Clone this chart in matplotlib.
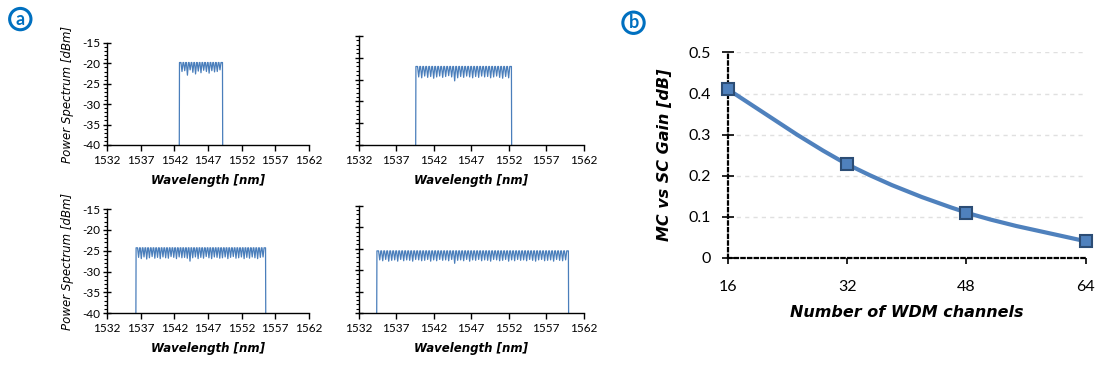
import numpy as np
import matplotlib.pyplot as plt
from matplotlib.path import Path
from matplotlib.patches import PathPatch

# ---- panel (a): WDM spectra, one list of inter-channel dips per case ----
bandStart = [1542.75, 1539.6, 1536.3, 1534.4]
bandEnd = [1549.2, 1552.4, 1555.6, 1560.0]
peakLevel = [-19.8, -22.0, -24.3, -25.5]
dips16 = [-22.0, -21.8, -22.9, -21.6, -22.2, -22.6, -21.9, -22.3, -21.7, -22.0,
          -22.4, -21.8, -22.1, -22.0, -21.6]
dips32 = [-24.4, -24.6, -24.2, -24.5, -24.3, -24.7, -24.4, -24.2, -24.5, -24.3,
          -24.1, -24.4, -25.3, -24.6, -24.3, -24.5, -24.2, -24.4, -24.6, -24.3,
          -24.5, -24.2, -24.4, -24.3, -24.6, -24.4, -24.2, -24.5, -24.7, -24.3,
          -24.6]
dips48 = [-26.6, -26.9, -26.5, -27.0, -26.7, -26.4, -26.8, -26.6, -26.9, -26.5,
          -26.7, -26.8, -26.4, -26.6, -26.9, -26.5, -26.7, -26.6, -26.8, -27.5,
          -26.7, -26.5, -26.9, -26.6, -26.8, -26.4, -26.7, -26.9, -26.5, -26.6,
          -26.8, -26.7, -26.5, -26.9, -26.6, -26.4, -26.8, -26.7, -26.5, -26.9,
          -26.6, -26.8, -26.5, -26.7, -26.9, -26.6, -26.5]
dips64 = [-27.6, -27.8, -27.5, -27.9, -27.7, -27.6, -27.9, -27.5, -27.8, -27.6,
          -27.7, -27.9, -27.5, -27.6, -27.8, -27.7, -27.5, -27.9, -27.6, -27.8,
          -27.5, -27.7, -27.6, -27.8, -27.5, -28.4, -27.7, -27.6, -27.8, -27.5,
          -27.9, -27.6, -27.7, -27.5, -27.8, -27.6, -27.7, -27.9, -27.5, -27.6,
          -27.8, -27.7, -27.5, -27.9, -27.6, -27.8, -27.5, -27.7, -27.6, -27.8,
          -27.5, -27.7, -27.9, -27.6, -27.5, -27.8, -27.7, -27.6, -27.9, -27.5,
          -27.7, -27.8, -27.6]
allDips = [dips16, dips32, dips48, dips64]
xTicksA = [1532, 1537, 1542, 1547, 1552, 1557, 1562]

# ---- panel (b): gain vs channel count ----
nChannels = [16, 32, 48, 64]
gainDB = [0.41, 0.228, 0.11, 0.04]

blue = '#4A7EBB'
circleBlue = '#0070C0'

plt.rcParams['font.family'] = ['Lato', 'DejaVu Sans']
plt.rcParams['axes.unicode_minus'] = False

fig = plt.figure(figsize=(10.97, 3.67), dpi=100)

axPos = [[0.0975, 0.605, 0.184, 0.278],
         [0.327, 0.605, 0.205, 0.297],
         [0.0975, 0.147, 0.184, 0.283],
         [0.327, 0.147, 0.205, 0.292]]


def spectrumLine(start, end, peak, dips):
    """Build comb-like spectrum outline: flat channel tops with dips between."""
    n = len(dips) + 1
    spacing = (end - start) / n
    xs = [start, start + 0.03]
    ys = [-40, peak]
    for i in range(n):
        c = start + (i + 0.5) * spacing
        xs += [c - 0.12 * spacing, c + 0.12 * spacing]
        ys += [peak, peak]
        if i < n - 1:
            xs.append(start + (i + 1) * spacing)
            ys.append(dips[i])
    xs += [end - 0.03, end]
    ys += [peak, -40]
    return np.array(xs), np.array(ys)


for k in range(4):
    ax = fig.add_axes(axPos[k])
    xs, ys = spectrumLine(bandStart[k], bandEnd[k], peakLevel[k], allDips[k])
    ax.plot(xs, ys, color=blue, lw=0.9, clip_on=False)
    ax.set_xlim(1532, 1562)
    ax.set_ylim(-40, -15)
    ax.set_xticks(xTicksA)
    ax.set_yticks(np.arange(-40, -14, 5))
    ax.set_yticks(np.arange(-40, -14, 1), minor=True)
    for s in ['top', 'right']:
        ax.spines[s].set_visible(False)
    for s in ['left', 'bottom']:
        ax.spines[s].set_linewidth(1.0)
    ax.tick_params(axis='x', direction='out', length=4, width=1, labelsize=8.5, pad=3)
    ax.tick_params(axis='y', which='major', direction='inout', length=6, width=1,
                   labelsize=8.5, pad=2)
    ax.tick_params(axis='y', which='minor', direction='out', length=2, width=0.8)
    if k % 2 == 0:
        ax.set_ylabel('Power Spectrum [dBm]', family='DejaVu Sans', style='italic',
                      fontsize=8.5, labelpad=6)
    else:
        ax.set_yticklabels([])
    ax.set_xlabel('Wavelength [nm]', family='DejaVu Sans', style='italic',
                  weight='bold', fontsize=8.5, labelpad=6)

# ---- panel (b) ----
axB = fig.add_axes([0.6636, 0.298, 0.326, 0.559])
axB.set_xlim(16, 64)
axB.set_ylim(0, 0.5)
axB.set_xticks(nChannels)
axB.set_yticks([0, 0.1, 0.2, 0.3, 0.4, 0.5])
axB.set_yticklabels(['0', '0.1', '0.2', '0.3', '0.4', '0.5'])
axB.grid(axis='y', color='#E0E0E0', ls=(0, (3, 3)), lw=1)
axB.set_axisbelow(True)
for s in ['top', 'right']:
    axB.spines[s].set_visible(False)
for s in ['left', 'bottom']:
    axB.spines[s].set_linestyle((0, (1.5, 1.5)))
    axB.spines[s].set_linewidth(1.6)
axB.tick_params(axis='y', direction='inout', length=8, width=1.2, labelsize=11.5, pad=8)
axB.tick_params(axis='x', direction='out', length=4, width=1.2, labelsize=11.5, pad=12)

# smooth curve (Excel style) through the points via cubic Bezier segments
px = np.array(nChannels, dtype=float)
py = np.array(gainDB)
pts = np.column_stack([px, py])
ext = np.vstack([pts[0], pts, pts[-1]])
verts = [tuple(pts[0])]
codes = [Path.MOVETO]
for i in range(len(pts) - 1):
    p0, p1, p2, p3 = ext[i], ext[i + 1], ext[i + 2], ext[i + 3]
    c1 = p1 + (p2 - p0) / 6
    c2 = p2 - (p3 - p1) / 6
    verts += [tuple(c1), tuple(c2), tuple(p2)]
    codes += [Path.CURVE4] * 3
axB.add_patch(PathPatch(Path(verts, codes), fc='none', ec='#4F81BD', lw=3,
                        clip_on=False, capstyle='round'))
axB.plot(px, py, ls='none', marker='s', ms=8, mfc='#4F81BD', mec='#2C4D75',
         mew=1.5, clip_on=False, zorder=5)

axB.set_ylabel('MC vs SC Gain [dB]', family='DejaVu Sans', style='italic',
               weight='bold', fontsize=11.5, labelpad=12)
axB.set_xlabel('Number of WDM channels', family='DejaVu Sans', style='italic',
               weight='bold', fontsize=11.5, labelpad=8)

# circled panel letters
for (x, y, letter) in [(0.0185, 0.948, 'a'), (0.5775, 0.938, 'b')]:
    fig.text(x, y, letter, ha='center', va='center', color=circleBlue,
             fontsize=13, weight='bold',
             bbox=dict(boxstyle='circle,pad=0.12', fc='white', ec=circleBlue, lw=2.2))

fig.savefig('out.png', dpi=100)
